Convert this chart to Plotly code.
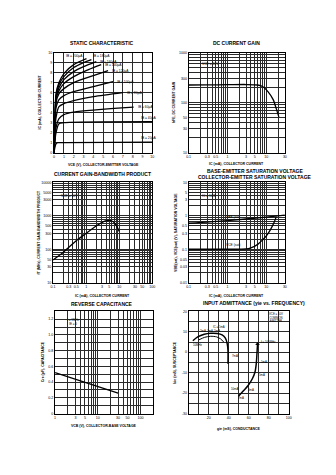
import math
import plotly.graph_objects as go

# ---------------- DATA ----------------
# Panel 1: static characteristic (VCE in V, IC in mA)
ib_labels = ["IB = 20μA", "IB = 40μA", "IB = 60μA", "IB = 80μA", "IB = 100μA",
             "IB = 120μA", "IB = 140μA", "IB = 160μA", "IB = 180μA", "IB = 200μA"]
static_vce = [
    [0, 0.1, 0.2, 0.4, 1, 10],
    [0, 0.1, 0.2, 0.5, 1, 10],
    [0, 0.1, 0.2, 0.5, 1, 2, 8.1],
    [0, 0.1, 0.2, 0.5, 1, 2, 4, 7],
    [0, 0.1, 0.2, 0.5, 1, 2, 4, 6],
    [0, 0.1, 0.2, 0.5, 1, 2, 4, 5.5],
    [0, 0.1, 0.2, 0.5, 1, 2, 3.5, 4.8],
    [0, 0.1, 0.2, 0.5, 1, 2, 3, 4.3],
    [0, 0.1, 0.2, 0.5, 1, 2, 3, 3.8],
    [0, 0.1, 0.2, 0.5, 1, 2, 3.3],
]
static_ic = [
    [0, 0.6, 0.9, 1.0, 1.0, 1.05],
    [0, 1.3, 2.0, 2.9, 3.0, 3.1],
    [0, 1.6, 2.5, 3.4, 3.8, 4.05, 4.55],
    [0, 2.2, 3.5, 4.6, 4.9, 5.2, 5.6, 6.0],
    [0, 2.8, 4.5, 5.3, 5.7, 6.1, 6.6, 7.1],
    [0, 3.1, 5.0, 5.9, 6.4, 7.0, 7.7, 8.2],
    [0, 3.3, 5.3, 6.2, 6.9, 7.6, 8.3, 8.8],
    [0, 3.4, 5.5, 6.5, 7.3, 8.1, 8.6, 9.1],
    [0, 3.5, 5.7, 6.8, 7.6, 8.5, 9.0, 9.3],
    [0, 3.6, 5.9, 7.0, 7.9, 8.8, 9.4],
]

# Panel 2: DC current gain
gain_ic = [0.1, 0.3, 1, 3, 6, 8, 11, 15, 18, 21]
gain_hfe = [225, 226, 228, 230, 225, 210, 166, 115, 76, 52]

# Panel 3: gain-bandwidth product
ft_ic = [0.1, 0.2, 0.3, 0.5, 1, 2.3, 3.5, 4.6, 6, 7.3, 8.5, 10]
ft_mhz = [48, 80, 115, 180, 300, 540, 680, 727, 700, 605, 480, 343]

# Panel 4: saturation voltages
vbe_ic = [0.1, 1, 10, 30]
vbe_sat = [0.6, 0.72, 0.92, 1.05]
vce_ic = [0.1, 1, 3, 4, 6, 8, 10, 13, 16, 18]
vce_sat = [0.1, 0.1, 0.102, 0.11, 0.14, 0.19, 0.25, 0.4, 0.65, 0.95]

# Panel 5: reverse capacitance
cre_vcb = [1, 30]
cre_pf = [0.52, 0.26]

# Panel 6: input admittance
yie_outer_g = [4.2, 9.1, 15.6, 22, 28.6, 33.4, 36.7, 38.6, 39.3, 39.3]
yie_outer_b = [5.6, 7.5, 8.8, 9.3, 9.2, 8.5, 6.9, 4.0, 0.7, -5.7]
yie_inner_g = [10, 16, 22, 28, 32, 35]
yie_inner_b = [6.0, 7.3, 7.8, 7.5, 6.5, 5.0]
yie_right_g = [49.7, 54.5, 59.4, 63.6, 66.2, 67.5, 68.2, 68.8]
yie_right_b = [-21.6, -19, -16.3, -13, -9.8, -5.7, -0.9, 4.0]

# tick label sets
lab_gain_x = [0.1, 0.3, 0.5, 1, 3, 5, 10, 30]
lab_gain_y = [10, 30, 50, 100, 300, 1000]
lab_ft_x = [0.1, 0.3, 0.5, 1, 3, 5, 10, 30, 50, 100]
lab_ft_y = [10, 30, 50, 100, 300, 500, 1000, 3000, 5000, 10000]
lab_sat_y = [0.01, 0.03, 0.05, 0.1, 0.3, 0.5, 1, 3, 5, 10]
lab_cre_x = [1, 3, 5, 10, 30, 50, 100]

# ---------------- HELPERS ----------------
W, H = 336, 475
FONT = "Liberation Sans"


def dx(a, b):
    return [a / W, b / W]


def dy(top, bottom):
    return [1 - bottom / H, 1 - top / H]


def fmt(v):
    if v >= 1:
        return str(int(round(v)))
    return ("%g" % v)


def log_ticks(lo, hi, labeled):
    vals, texts = [], []
    for e in range(lo, hi):
        for m in range(1, 10):
            v = m * 10 ** e
            vals.append(v)
            texts.append(fmt(v) if any(abs(v - l) < 1e-9 * max(1, l) for l in labeled) else "")
    v = 10 ** hi
    vals.append(v)
    texts.append(fmt(v) if any(abs(v - l) < 1e-9 * max(1, l) for l in labeled) else "")
    return vals, texts


def lin_ticks(lo, hi, step, lab_every, decimals=0):
    vals, texts = [], []
    n = int(round((hi - lo) / step))
    for i in range(n + 1):
        v = round(lo + i * step, 6)
        vals.append(v)
        if i % lab_every == 0:
            texts.append(("%.*f" % (decimals, v)) if decimals else str(int(round(v))))
        else:
            texts.append("")
    return vals, texts


AX = dict(showline=True, mirror=True, linecolor="black", linewidth=1,
          showgrid=True, gridcolor="#2a2a2a", gridwidth=0.7, zeroline=False,
          ticks="", tickfont=dict(size=3.6, family=FONT, color="black"),
          tickmode="array", fixedrange=True)

fig = go.Figure()


def add(x, y, xa, ya, spline=True, width=1.3):
    fig.add_trace(go.Scatter(x=x, y=y, mode="lines", xaxis=xa, yaxis=ya,
                             line=dict(color="black", width=width,
                                       shape="spline" if spline else "linear",
                                       smoothing=0.8),
                             showlegend=False, hoverinfo="skip"))


# Panel 1
for vce, ic in zip(static_vce, static_ic):
    add(vce, ic, "x", "y")
# Panel 2
add(gain_ic, gain_hfe, "x2", "y2")
# Panel 3
add(ft_ic, ft_mhz, "x3", "y3")
# Panel 4
add(vbe_ic, vbe_sat, "x4", "y4")
add(vce_ic, vce_sat, "x4", "y4")
# Panel 5
add(cre_vcb, cre_pf, "x5", "y5", spline=False)
# Panel 6
add(yie_outer_g, yie_outer_b, "x6", "y6", width=1.5)
add(yie_inner_g, yie_inner_b, "x6", "y6", width=1.0)
add(yie_right_g, yie_right_b, "x6", "y6", width=1.5)
fig.add_trace(go.Scatter(x=[yie_right_g[-1]], y=[yie_right_b[-1]], mode="markers",
                         xaxis="x6", yaxis="y6",
                         marker=dict(symbol="triangle-up", size=4, color="black"),
                         showlegend=False, hoverinfo="skip"))

# ---------------- AXES ----------------
lay = {}
v, t = lin_ticks(0, 10, 1, 1)
lay["xaxis"] = dict(AX, domain=dx(52, 152), anchor="y", range=[0, 10], tickvals=v, ticktext=t)
lay["yaxis"] = dict(AX, domain=dy(51, 152), anchor="x", range=[0, 10], tickvals=v, ticktext=t)

v, t = log_ticks(-1, 2, lab_gain_x)
lay["xaxis2"] = dict(AX, type="log", domain=dx(189, 287), anchor="y2",
                     range=[-1, math.log10(30)], tickvals=v, ticktext=t)
v, t = log_ticks(1, 3, lab_gain_y)
lay["yaxis2"] = dict(AX, type="log", domain=dy(51, 152), anchor="x2",
                     range=[1, 3], tickvals=v, ticktext=t)

v, t = log_ticks(-1, 2, lab_ft_x)
lay["xaxis3"] = dict(AX, type="log", domain=dx(51, 152), anchor="y3",
                     range=[-1, 2], tickvals=v, ticktext=t)
v, t = log_ticks(1, 4, lab_ft_y)
lay["yaxis3"] = dict(AX, type="log", domain=dy(182, 283), anchor="x3",
                     range=[1, 4], tickvals=v, ticktext=t)

v, t = log_ticks(-1, 2, lab_gain_x)
lay["xaxis4"] = dict(AX, type="log", domain=dx(189, 287), anchor="y4",
                     range=[-1, math.log10(30)], tickvals=v, ticktext=t)
v, t = log_ticks(-2, 1, lab_sat_y)
lay["yaxis4"] = dict(AX, type="log", domain=dy(182, 283), anchor="x4",
                     range=[-2, 1], tickvals=v, ticktext=t)

v, t = log_ticks(0, 3, lab_cre_x)
lay["xaxis5"] = dict(AX, type="log", domain=dx(53, 153), anchor="y5",
                     range=[0, math.log10(200)], tickvals=v, ticktext=t)
v, t = lin_ticks(0, 1.3, 0.1, 2, decimals=1)
t = [("0" if s == "0.0" else s) for s in t]
lay["yaxis5"] = dict(AX, domain=dy(312, 415), anchor="x5", range=[0, 1.3],
                     tickvals=v, ticktext=t)

v, t = lin_ticks(0, 100, 10, 2)
t = [("" if s == "0" else s) for s in t]
lay["xaxis6"] = dict(AX, domain=dx(189, 291), anchor="y6", range=[0, 100],
                     tickvals=v, ticktext=t)
v, t = lin_ticks(-30, 20, 5, 2)
lay["yaxis6"] = dict(AX, domain=dy(312, 415), anchor="x6", range=[-30, 20],
                     tickvals=v, ticktext=t)

# ---------------- TEXT ----------------
ann = []


def ptxt(x, y, text, size=4, bold=False, angle=0, anchor="center"):
    ann.append(dict(x=x / W, y=1 - y / H, xref="paper", yref="paper",
                    text=("<b>%s</b>" % text) if bold else text, showarrow=False,
                    textangle=angle, xanchor=anchor, yanchor="middle",
                    font=dict(size=size, family=FONT, color="black")))


# panel titles
ptxt(101, 41, "STATIC CHARACTERISTIC", size=5, bold=True)
ptxt(238, 41, "DC CURRENT GAIN", size=5, bold=True)
ptxt(101, 173, "CURRENT GAIN-BANDWIDTH PRODUCT", size=5, bold=True)
ptxt(257, 170, "BASE-EMITTER SATURATION VOLTAGE", size=5, bold=True)
ptxt(257, 176, "COLLECTOR-EMITTER SATURATION VOLTAGE", size=5, bold=True)
ptxt(101, 305, "REVERSE CAPACITANCE", size=5, bold=True)
ptxt(256, 304, "INPUT ADMITTANCE (yie vs. FREQUENCY)", size=5, bold=True)

# axis titles
ptxt(102, 164, "VCE (V), COLLECTOR-EMITTER VOLTAGE", size=3.5, bold=True)
ptxt(38, 101, "IC (mA), COLLECTOR CURRENT", size=3.5, bold=True, angle=-90)
ptxt(238, 163, "IC (mA), COLLECTOR CURRENT", size=3.5, bold=True)
ptxt(174, 101, "hFE, DC CURRENT GAIN", size=3.5, bold=True, angle=-90)
ptxt(101, 296, "IC (mA), COLLECTOR CURRENT", size=3.5, bold=True)
ptxt(37, 232, "fT (MHz), CURRENT GAIN-BANDWIDTH PRODUCT", size=3.5, bold=True, angle=-90)
ptxt(238, 296, "IC (mA), COLLECTOR CURRENT", size=3.5, bold=True)
ptxt(176, 232, "VBE(sat), VCE(sat) (V), SATURATION VOLTAGE", size=3.5, bold=True, angle=-90)
ptxt(103, 428, "VCB (V), COLLECTOR-BASE VOLTAGE", size=3.5, bold=True)
ptxt(41, 363, "Cre (pF), CAPACITANCE", size=3.5, bold=True, angle=-90)
ptxt(240, 431, "gie (mS), CONDUCTANCE", size=3.5, bold=True)
ptxt(175, 363, "bie (mS), SUSCEPTANCE", size=3.5, bold=True, angle=-90)


def dtxt(xa, ya, x, y, text, size=3.3, anchor="left", xs=0, ys=0):
    ann.append(dict(x=x, y=y, xref=xa, yref=ya, text=text, showarrow=False,
                    xanchor=anchor, yanchor="middle", xshift=xs, yshift=ys,
                    font=dict(size=size, family=FONT, color="black")))


# IB labels at curve ends
for i, (lab, vce, ic) in enumerate(zip(ib_labels, static_vce, static_ic)):
    if vce[-1] >= 9.5:
        dtxt("x", "y", 8.6, ic[-1], lab, ys=4)
    elif i == 9:
        dtxt("x", "y", vce[-1], ic[-1], lab, anchor="right", xs=-1, ys=3)
    elif i == 8:
        dtxt("x", "y", vce[-1], ic[-1], lab, xs=0, ys=4)
    else:
        dtxt("x", "y", vce[-1], ic[-1], lab, xs=2)

dtxt("x2", "y2", math.log10(0.2), math.log10(600), "VCE = 10V")
dtxt("x3", "y3", math.log10(0.15), math.log10(4000), "VCE = 10V")
dtxt("x4", "y4", math.log10(0.2), math.log10(4), "IC = 10IB")
dtxt("x4", "y4", math.log10(vbe_ic[1]), math.log10(vbe_sat[1]), "VBE (sat)", xs=-3, ys=4)
dtxt("x4", "y4", math.log10(vce_ic[1]), math.log10(vce_sat[1]), "VCE (sat)", xs=-3, ys=4)
dtxt("x5", "y5", math.log10(1.7), 1.17, "f = 1MHz<br>IE = 0", size=3)

dtxt("x6", "y6", 78, 17, "VCE = 10V<br>COMMON<br>EMITTER", size=2.8)
dtxt("x6", "y6", 22, 12.5, "IC = 1mA", size=2.8)
dtxt("x6", "y6", 9, 10.5, "2mA  3mA  5mA", size=2.8)
dtxt("x6", "y6", 2, 3.5, "10MHz", size=2.8)
dtxt("x6", "y6", 41, -2, "7mA", size=2.8)
dtxt("x6", "y6", 70, 5, "f = 100MHz", size=2.8)
dtxt("x6", "y6", 70, -5, "1mA", size=2.8)
dtxt("x6", "y6", 68, -11, "5mA", size=2.8)
dtxt("x6", "y6", 40, -18, "10mA", size=2.8)
dtxt("x6", "y6", 57, -18.5, "3mA", size=2.8)
dtxt("x6", "y6", 47, -22.5, "7mA", size=2.8)

lay["annotations"] = ann

fig.update_layout(
    width=W, height=H, margin=dict(l=0, r=0, t=0, b=0),
    paper_bgcolor="white", plot_bgcolor="white",
    font=dict(family=FONT, size=4, color="black"),
    showlegend=False,
    **lay,
)

fig.write_html("out.html", config={"displayModeBar": False})
